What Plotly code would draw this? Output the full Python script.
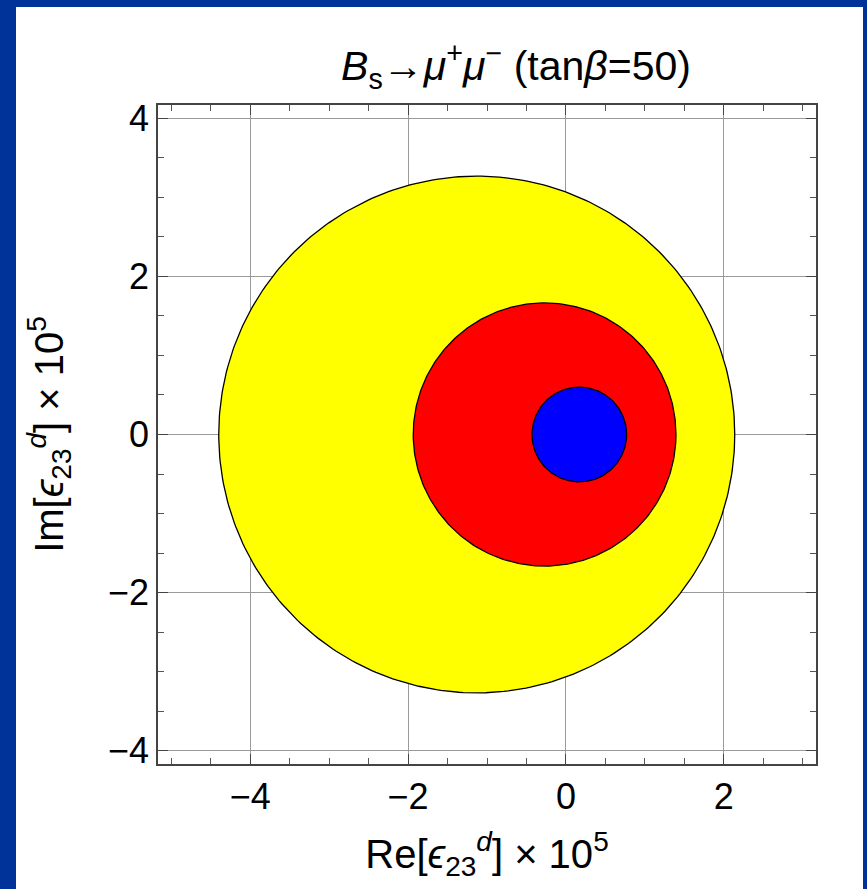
import numpy as np
import plotly.graph_objects as go

# Confidence regions (centre Re, centre Im, radius), outer to inner
region_names = ["outer", "middle", "inner"]
centre_re = [-1.13, -0.27, 0.17]
centre_im = [0.0, 0.0, 0.0]
radius = [3.27, 1.665, 0.60]
fill_colors = ["#FFFF00", "#FF0000", "#0000FF"]

x_tick_vals = [-4, -2, 0, 2]
y_tick_vals = [-4, -2, 0, 2, 4]
x_range = [-5.17, 3.17]
y_range = [-4.17, 4.17]

theta = np.linspace(0, 2 * np.pi, 361)

fig = go.Figure()
for name, cx, cy, r, col in zip(region_names, centre_re, centre_im, radius, fill_colors):
    fig.add_trace(go.Scatter(
        x=cx + r * np.cos(theta), y=cy + r * np.sin(theta),
        mode="lines", fill="toself", fillcolor=col,
        line=dict(color="black", width=1.3), name=name,
        showlegend=False, hoverinfo="skip"))

font = "Liberation Sans, Arial, Helvetica, sans-serif"
axis_common = dict(
    showgrid=True, gridcolor="#9a9a9a", gridwidth=1,
    showline=True, linecolor="#444444", linewidth=1.5,
    ticks="inside", ticklen=10, tickwidth=1.2, tickcolor="#444444",
    mirror="ticks", zeroline=False,
    minor=dict(dtick=0.5, ticks="inside", ticklen=6, tickwidth=1, tickcolor="#555555", showgrid=False),
    tickfont=dict(family=font, size=36, color="black"),
)

fig.update_layout(
    width=867, height=889,
    margin=dict(l=158, r=51, t=105, b=125),
    paper_bgcolor="#003399", plot_bgcolor="white",
    title=dict(
        text="<i>B</i><sub>s</sub>→<i>μ</i><sup>+</sup><i>μ</i><sup>−</sup> (tan<i>β</i>=50)",
        x=516 / 867, xref="container", y=1 - 66 / 889, yref="container",
        xanchor="center", yanchor="middle",
        font=dict(family=font, size=41, color="black")),
    xaxis=dict(range=x_range, tickvals=x_tick_vals,
               ticktext=["−4", "−2", "0", "2"],
               title=dict(text="Re[<i>ϵ</i><sub>23</sub><sup><i>d</i></sup>] × 10<sup>5</sup>",
                          font=dict(family=font, size=40, color="black"), standoff=24),
               **axis_common),
    yaxis=dict(range=y_range, tickvals=y_tick_vals,
               ticktext=["−4", "−2", "0", "2", "4"],
               title=dict(text="Im[<i>ϵ</i><sub>23</sub><sup><i>d</i></sup>] × 10<sup>5</sup>",
                          font=dict(family=font, size=40, color="black"), standoff=32),
               **axis_common),
    shapes=[dict(type="rect", xref="paper", yref="paper", layer="below",
                 x0=(16 - 158) / 658, x1=(863 - 158) / 658,
                 y0=-0.25, y1=1 + (105 - 7) / 659,
                 fillcolor="white", line=dict(width=0))],
)

fig.write_html("out.html", config={"displayModeBar": False},
               post_script="document.body.style.margin='0';document.body.style.background='#003399';")
